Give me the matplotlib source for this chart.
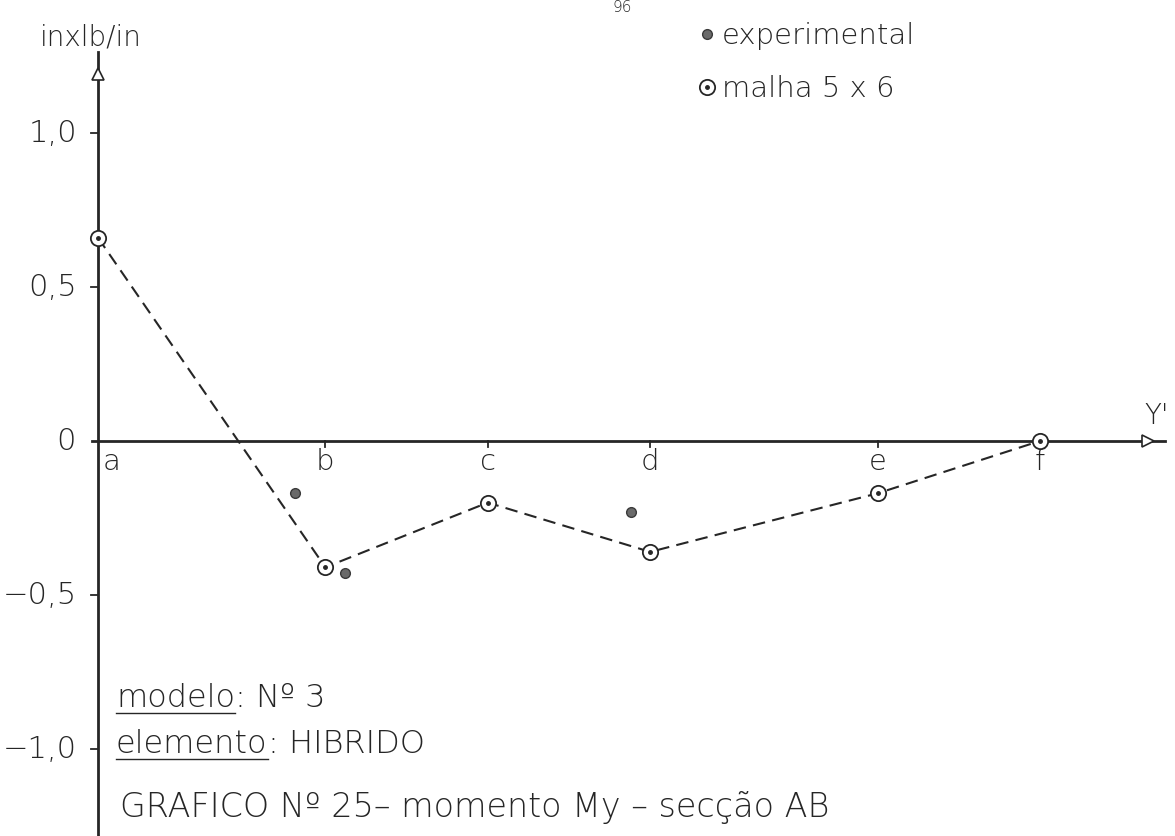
import matplotlib
matplotlib.use("Agg")
import matplotlib.pyplot as plt

plt.rcParams['font.family'] = ['DejaVu Sans']
plt.rcParams['font.weight'] = 'light'

# --- data -------------------------------------------------------------
point_names = ['a', 'b', 'c', 'd', 'e', 'f']
point_pos = [0.0, 1.4, 2.4, 3.4, 4.8, 5.8]          # position along Y'
malha_vals = [0.66, -0.41, -0.20, -0.36, -0.17, 0.0]  # malha 5 x 6
exp_pos = [1.21, 1.52, 3.28]
exp_vals = [-0.17, -0.43, -0.23]                      # experimental
ytick_vals = [1.0, 0.5, 0.0, -0.5, -1.0]
ytick_text = ['1,0', '0,5', '0', '\u22120,5', '\u22121,0']

# --- figure / scale ---------------------------------------------------
W, H, DPI = 1175, 836, 100
X0, XS = 98, 162.4     # pixel of x=0, pixels per unit
Y0, YS = 441, 308      # pixel of y=0, pixels per unit

def px(xp, yp):
    return (xp - X0) / XS, (Y0 - yp) / YS

INK = '#262626'
fig = plt.figure(figsize=(W / DPI, H / DPI), dpi=DPI)
ax = fig.add_axes([0, 0, 1, 1])
ax.set_xlim(-X0 / XS, (W - X0) / XS)
ax.set_ylim((Y0 - H) / YS, Y0 / YS)
ax.axis('off')

# axes lines with open arrowheads
ytop = px(0, 52)[1]
ax.plot([0, 0], [(Y0 - H) / YS, ytop], color=INK, lw=2.0, zorder=2)
ax.plot([0], [px(0, 74)[1]], marker='^', ms=8, mfc='white', mec=INK, mew=1.2, zorder=3)
xl, xr = px(92, 0)[0], px(1165, 0)[0]
ax.plot([xl, xr], [0, 0], color=INK, lw=2.0, zorder=2)
ax.plot([px(1148, 0)[0]], [0], marker='>', ms=8, mfc='white', mec=INK, mew=1.2, zorder=3)
ax.text(*px(1157, 416), "Y'", fontsize=20, color=INK, ha='center', va='center')

# y ticks and labels
tick_w = 7 / XS
for v, t in zip(ytick_vals, ytick_text):
    if v != 0:
        ax.plot([-tick_w, 0], [v, v], color=INK, lw=1.3)
    xt = px(77, 0)[0] if v != 0 else px(76, 0)[0]
    ax.text(xt, v, t, fontsize=22, color=INK, ha='right', va='center')

# x ticks and point names
for x, n in zip(point_pos, point_names):
    if x != 0:
        ax.plot([x, x], [0, -6 / YS], color=INK, lw=1.3)
    xoff = 14 / XS if x == 0 else 0
    ax.text(x + xoff, px(0, 462)[1], n, fontsize=21, color=INK, ha='center', va='center')

# series
ax.plot(point_pos, malha_vals, ls=(0, (6, 3.5)), color=INK, lw=1.5, zorder=4)
h_circ, = ax.plot(point_pos, malha_vals, ls='none', marker='o', ms=11,
                  mfc='white', mec=INK, mew=1.3, zorder=5)
h_dot, = ax.plot(point_pos, malha_vals, ls='none', marker='o', ms=2.5,
                 mfc=INK, mec=INK, zorder=6)
h_exp, = ax.plot(exp_pos, exp_vals, ls='none', marker='o', ms=7,
                 mfc='#6a6a6a', mec='#3a3a3a', mew=1.0, zorder=5)

leg = ax.legend([h_exp, (h_circ, h_dot)], ['experimental', 'malha 5 x 6'],
                loc='upper left', bbox_to_anchor=(700 / W, 1 - 22 / H),
                frameon=False, fontsize=21, handlelength=0.5, handletextpad=0.25,
                labelspacing=0.85, borderaxespad=0, borderpad=0)
for t in leg.get_texts():
    t.set_color(INK)

# header texts
ax.text(*px(40, 37), 'inxlb/in', fontsize=20, color=INK, ha='left', va='center')
ax.text(*px(622, 15), '96', fontsize=11, color=INK, ha='center', va='bottom')

# notes with underlined words
fig.canvas.draw()
renderer = fig.canvas.get_renderer()
inv = ax.transData.inverted()

def underlined(xp, yp, word, rest, size):
    t = ax.text(*px(xp, yp), word, fontsize=size, color=INK, ha='left', va='center')
    bb = t.get_window_extent(renderer)
    y_line = H - (yp + 15)
    a = inv.transform((bb.x0, y_line))
    b = inv.transform((bb.x1, y_line))
    ax.plot([a[0], b[0]], [a[1], b[1]], color=INK, lw=1.0)
    ax.text(inv.transform((bb.x1, 0))[0], px(0, yp)[1], rest,
            fontsize=size, color=INK, ha='left', va='center')

underlined(116, 698, 'modelo', ': N\u00ba 3', 23)
underlined(116, 744, 'elemento', ': HIBRIDO', 23)
ax.text(*px(120, 808), 'GRAFICO N\u00ba 25\u2013 momento My \u2013 sec\u00e7\u00e3o AB',
        fontsize=24, color=INK, ha='left', va='center')

fig.savefig('out.png', dpi=DPI, facecolor='white')
